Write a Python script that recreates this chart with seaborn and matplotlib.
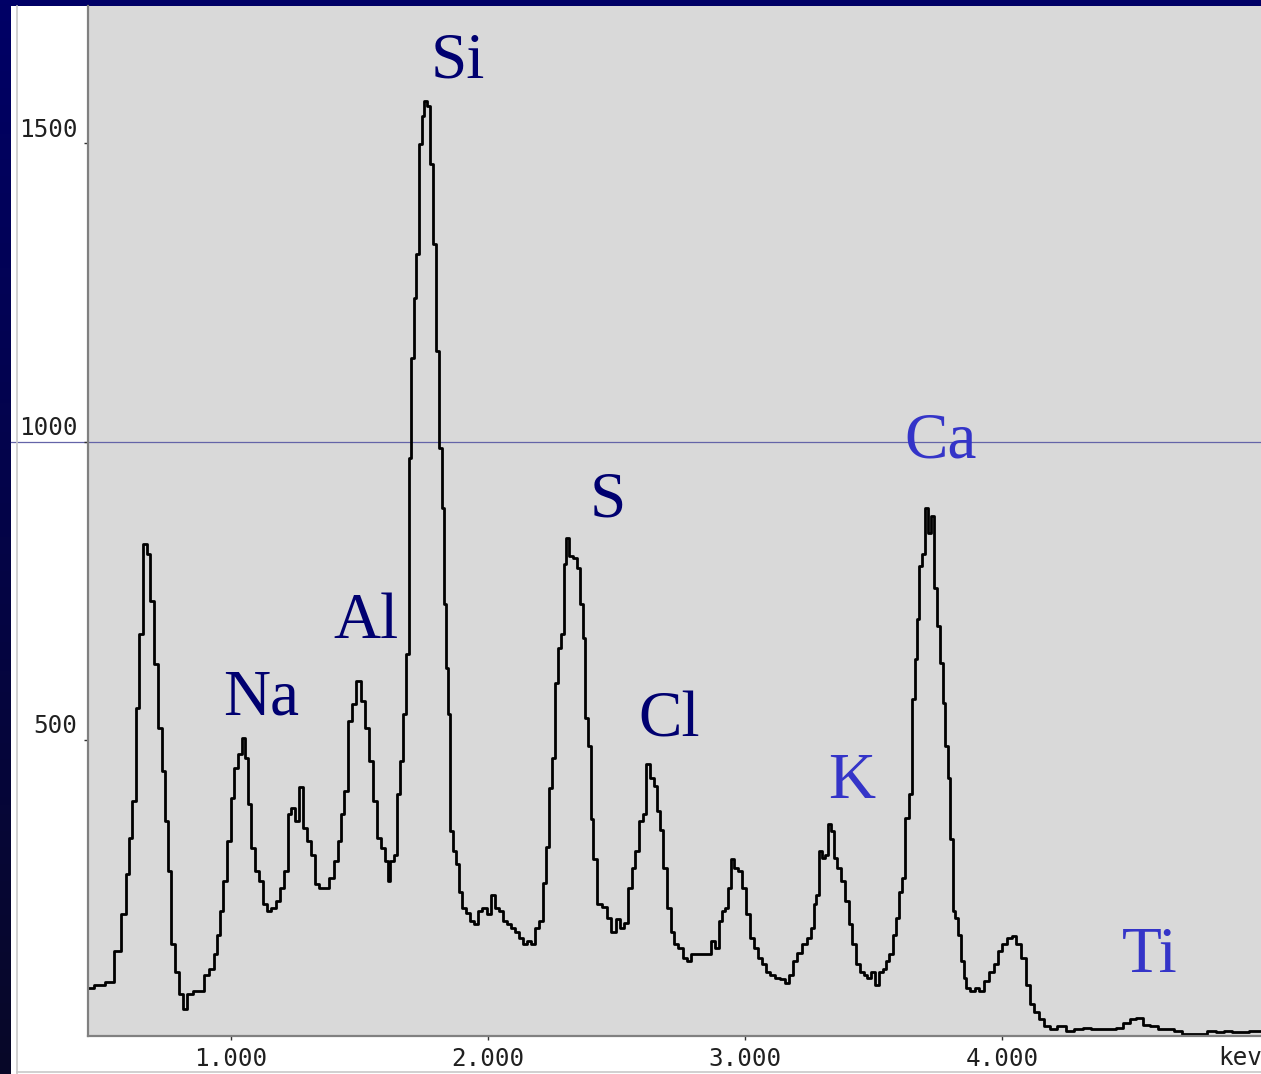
import numpy as np
import matplotlib
matplotlib.use("Agg")
import matplotlib.pyplot as plt
from matplotlib.transforms import ScaledTranslation
from matplotlib.lines import Line2D
from matplotlib.patches import Rectangle
import seaborn as sns

# EDS spectrum: channel energy (keV) and counts
energy_kev = [
    0.444, 0.490, 0.529, 0.560, 0.584, 0.599, 0.611, 0.623, 0.638, 0.650,
    0.665, 0.681, 0.693, 0.708, 0.724, 0.739, 0.751, 0.763, 0.774, 0.790,
    0.805, 0.821, 0.840, 0.864, 0.887, 0.907, 0.926, 0.942, 0.953, 0.965,
    0.977, 0.992, 1.008, 1.019, 1.035, 1.051, 1.062, 1.074, 1.086, 1.101,
    1.117, 1.132, 1.148, 1.167, 1.183, 1.198, 1.214, 1.230, 1.241, 1.257,
    1.272, 1.288, 1.304, 1.319, 1.335, 1.350, 1.374, 1.393, 1.409, 1.424,
    1.436, 1.447, 1.463, 1.479, 1.498, 1.514, 1.529, 1.545, 1.560, 1.576,
    1.591, 1.607, 1.615, 1.626, 1.642, 1.654, 1.665, 1.677, 1.689, 1.696,
    1.708, 1.716, 1.728, 1.739, 1.747, 1.759, 1.770, 1.782, 1.794, 1.805,
    1.817, 1.825, 1.833, 1.840, 1.848, 1.860, 1.872, 1.883, 1.895, 1.907,
    1.922, 1.938, 1.953, 1.969, 1.988, 2.004, 2.019, 2.035, 2.050, 2.066,
    2.082, 2.097, 2.113, 2.128, 2.144, 2.159, 2.175, 2.191, 2.206, 2.222,
    2.233, 2.245, 2.257, 2.268, 2.280, 2.292, 2.300, 2.311, 2.323, 2.339,
    2.354, 2.366, 2.374, 2.385, 2.397, 2.405, 2.416, 2.436, 2.455, 2.471,
    2.490, 2.506, 2.521, 2.537, 2.553, 2.568, 2.580, 2.595, 2.611, 2.623,
    2.638, 2.654, 2.665, 2.677, 2.689, 2.704, 2.720, 2.731, 2.751, 2.767,
    2.782, 2.798, 2.813, 2.829, 2.844, 2.860, 2.875, 2.891, 2.907, 2.918,
    2.930, 2.942, 2.953, 2.965, 2.981, 2.996, 3.012, 3.027, 3.043, 3.058,
    3.074, 3.089, 3.109, 3.128, 3.148, 3.163, 3.179, 3.194, 3.214, 3.233,
    3.253, 3.265, 3.272, 3.284, 3.296, 3.307, 3.319, 3.331, 3.342, 3.354,
    3.366, 3.381, 3.397, 3.412, 3.424, 3.440, 3.455, 3.471, 3.482, 3.498,
    3.514, 3.529, 3.545, 3.556, 3.568, 3.583, 3.595, 3.607, 3.619, 3.630,
    3.646, 3.657, 3.665, 3.673, 3.685, 3.693, 3.708, 3.720, 3.731, 3.743,
    3.751, 3.766, 3.774, 3.786, 3.794, 3.805, 3.813, 3.825, 3.837, 3.848,
    3.856, 3.868, 3.887, 3.903, 3.922, 3.942, 3.961, 3.977, 3.992, 4.012,
    4.031, 4.047, 4.062, 4.086, 4.101, 4.117, 4.136, 4.156, 4.175, 4.198,
    4.233, 4.265, 4.296, 4.331, 4.362, 4.393, 4.428, 4.459, 4.486, 4.510,
    4.537, 4.564, 4.588, 4.623, 4.654, 4.685, 4.720, 4.751, 4.782, 4.817,
    4.848, 4.879, 4.914, 4.946, 4.977, 5.004,
]
counts = [
    85, 90, 95, 146, 208, 275, 335, 397, 553, 677,
    828, 811, 733, 627, 520, 448, 364, 280, 158, 112,
    74, 50, 74, 79, 79, 107, 117, 141, 174, 213,
    263, 330, 402, 453, 476, 503, 470, 392, 319, 280,
    263, 225, 213, 218, 230, 252, 280, 376, 386, 364,
    422, 352, 330, 308, 258, 252, 252, 268, 297, 330,
    376, 414, 532, 560, 599, 565, 520, 465, 397, 335,
    319, 297, 263, 297, 308, 409, 465, 543, 644, 973,
    1140, 1241, 1315, 1499, 1546, 1571, 1563, 1466, 1332, 1152,
    989, 889, 728, 620, 543, 347, 314, 292, 246, 218,
    210, 196, 191, 213, 218, 208, 241, 218, 213, 196,
    191, 185, 179, 168, 158, 163, 158, 185, 196, 260,
    320, 420, 470, 595, 654, 677, 795, 838, 808, 805,
    788, 728, 671, 537, 490, 367, 300, 226, 221, 201,
    179, 200, 185, 193, 252, 285, 314, 364, 376, 460,
    436, 423, 381, 350, 285, 218, 179, 158, 151, 134,
    129, 141, 141, 141, 141, 141, 163, 151, 196, 213,
    218, 252, 300, 285, 280, 252, 208, 168, 151, 134,
    124, 112, 107, 101, 99, 92, 107, 129, 143, 158,
    168, 185, 225, 241, 314, 302, 308, 359, 347, 302,
    285, 263, 230, 191, 158, 124, 112, 107, 101, 112,
    90, 112, 117, 129, 141, 174, 201, 246, 268, 369,
    409, 568, 636, 703, 792, 812, 889, 847, 875, 755,
    691, 629, 562, 490, 436, 334, 213, 201, 174, 129,
    101, 84, 79, 84, 79, 96, 112, 124, 146, 158,
    168, 171, 158, 134, 90, 57, 45, 32, 20, 15,
    20, 12, 15, 17, 15, 15, 15, 17, 25, 32,
    34, 23, 20, 15, 15, 12, 8, 8, 8, 12,
    10, 12, 10, 10, 12, 12,
]

# Element line labels: symbol, energy (keV), baseline height (counts), colour
element_names = ["Si", "Na", "Al", "S", "Cl", "K", "Ca", "Ti"]
element_kev = [1.883, 1.117, 1.525, 2.467, 2.704, 3.416, 3.763, 4.576]
element_height = [1610, 543, 671, 875, 506, 402, 973, 112]
element_colors = ["#000070", "#000070", "#000070", "#000070", "#000070",
                  "#3434c8", "#3434c8", "#3434c8"]

y_ticks = [500, 1000, 1500]
x_ticks = [1.0, 2.0, 3.0, 4.0]
x_tick_labels = ["1.000", "2.000", "3.000", "4.000"]

W, H = 1261, 1074
fig = plt.figure(figsize=(W / 100, H / 100), dpi=100)

# Navy frame with a soft vertical gradient
bg = fig.add_axes([0, 0, 1, 1], zorder=-10)
grad = np.linspace(0, 1, 256)[:, None]
top_c = np.array([0x00, 0x00, 0x66]) / 255
bot_c = np.array([0x08, 0x08, 0x28]) / 255
img = top_c[None, None, :] * (1 - grad[..., None]) + bot_c[None, None, :] * grad[..., None]
bg.imshow(np.repeat(img, 4, axis=1), aspect="auto", extent=[0, 1, 0, 1])
bg.set_axis_off()

# White panel that holds the chart
fig.patches.append(Rectangle((11 / W, 0), 1 - 11 / W, 1 - 6 / H,
                             transform=fig.transFigure, facecolor="white",
                             edgecolor="none", zorder=-5))
fig.lines.append(Line2D([16.5 / W, 16.5 / W], [0, 1 - 6 / H],
                        transform=fig.transFigure, color="#c8c8c8", lw=1.2))
fig.lines.append(Line2D([16.5 / W, 1], [2.5 / H, 2.5 / H],
                        transform=fig.transFigure, color="#c8c8c8", lw=1.2))

ax = fig.add_axes([88 / W, 38 / H, 1 - 88 / W, 1 - 44 / H])
ax.set_facecolor("#d9d9d9")

sns.lineplot(x=energy_kev, y=counts, ax=ax, estimator=None,
             drawstyle="steps-mid", color="black", linewidth=2.0)

ax.set_xlim(0.444, 5.008)
ax.set_ylim(4, 1730)

# Reference line at 1000 counts, running across the left margin
ax.axhline(1000, xmin=-(88 - 11) / (W - 88), xmax=1, clip_on=False,
           color="#6464a8", lw=0.9, zorder=1)

for side in ["top", "right"]:
    ax.spines[side].set_visible(False)
for side in ["left", "bottom"]:
    ax.spines[side].set_color("#808080")
    ax.spines[side].set_linewidth(1.6)

mono = "DejaVu Sans Mono"
ax.set_yticks(y_ticks)
ax.set_yticklabels([str(v) for v in y_ticks], fontfamily=mono, fontsize=17.5)
ax.set_xticks(x_ticks)
ax.set_xticklabels(x_tick_labels, fontfamily=mono, fontsize=17.5)
ax.tick_params(axis="both", direction="out", length=2.8, width=1.0,
               color="#303030", labelcolor="#202020")
ax.tick_params(axis="y", pad=5)
ax.tick_params(axis="x", pad=5)
ax.set_xlabel("")
ax.set_ylabel("")
ax.grid(False)

shift = ScaledTranslation(0, 4.8 / 72, fig.dpi_scale_trans)
for lab in ax.get_yticklabels():
    lab.set_verticalalignment("baseline")
    lab.set_transform(lab.get_transform() + shift)

# Axis unit, running off the right edge
ax.annotate("kev", xy=(4.841, 0), xycoords=("data", "axes fraction"),
            xytext=(0, -7.5), textcoords="offset points", ha="left", va="top",
            fontfamily=mono, fontsize=17.5, color="#202020",
            annotation_clip=False)

for name, kev, h, c in zip(element_names, element_kev, element_height, element_colors):
    ax.text(kev, h, name, ha="center", va="baseline", color=c,
            fontfamily="Liberation Serif", fontsize=47)

fig.savefig("out.png", dpi=100)
